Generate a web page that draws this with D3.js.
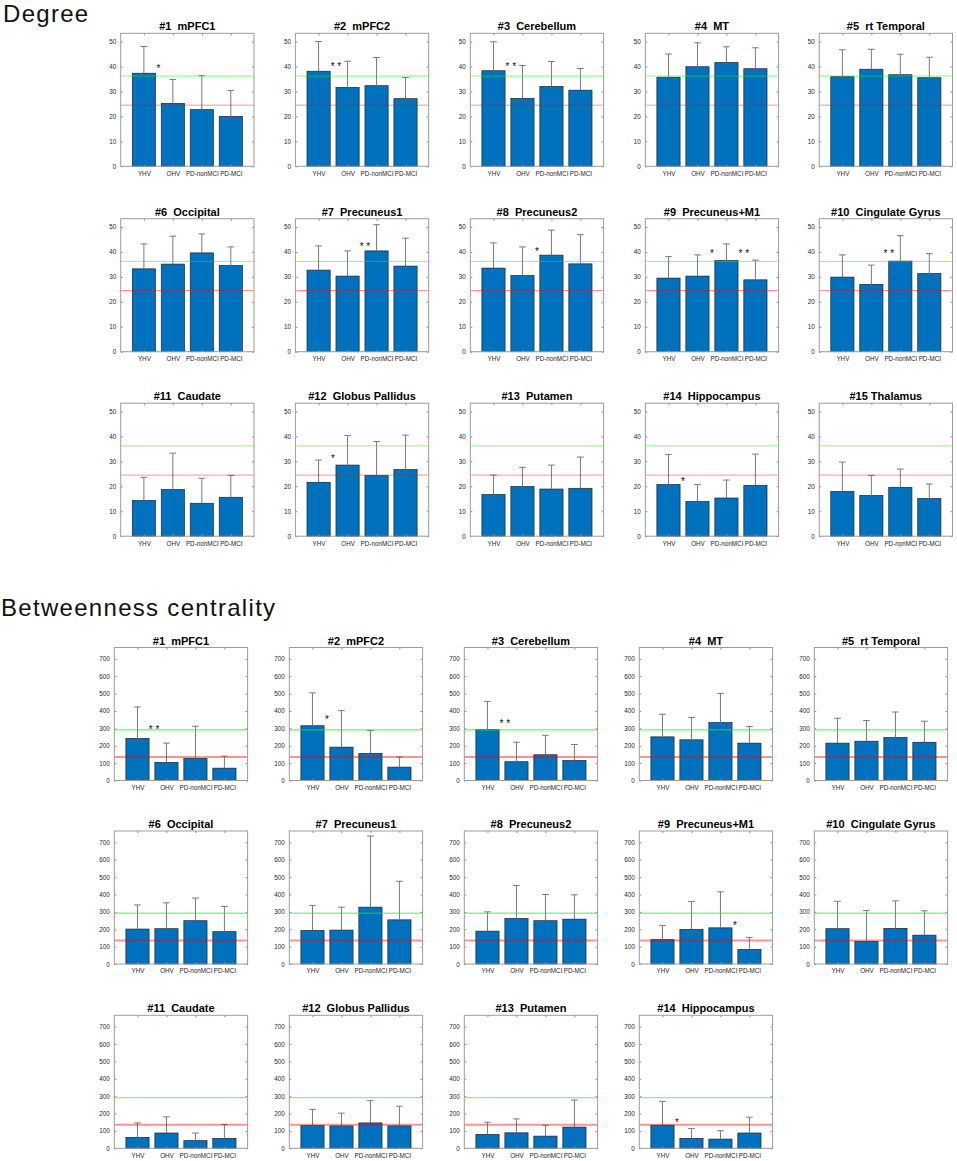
<!DOCTYPE html>
<meta charset="utf-8">
<script src="https://d3js.org/d3.v7.min.js"></script>
<style>
  body { margin: 0; background: #fff; }
  .tick text { fill: #262626; }
</style>
<div id="chart"></div>
<script>

// groups on the x axis of every panel
var groups = ["YHV", "OHV", "PD-nonMCI", "PD-MCI"];

// panel titles
var degreeTitles = ["#1  mPFC1", "#2  mPFC2", "#3  Cerebellum", "#4  MT", "#5  rt Temporal",
  "#6  Occipital", "#7  Precuneus1", "#8  Precuneus2", "#9  Precuneus+M1", "#10  Cingulate Gyrus",
  "#11  Caudate", "#12  Globus Pallidus", "#13  Putamen", "#14  Hippocampus", "#15 Thalamus"];
var betweenTitles = degreeTitles.slice(0, 14);

// degree: mean and SD per group
var degreeMean = [
  [37.3, 25.2, 22.7, 20.0], [38.1, 31.6, 32.3, 27.1], [38.3, 27.2, 32.0, 30.5],
  [35.7, 39.9, 41.6, 39.1], [35.9, 38.9, 36.7, 35.5], [33.2, 35.1, 39.6, 34.5],
  [32.7, 30.3, 40.4, 34.3], [33.5, 30.5, 38.7, 35.2], [29.5, 30.3, 36.5, 28.8],
  [29.9, 27.0, 36.3, 31.3], [14.3, 18.7, 13.2, 15.6], [21.6, 28.5, 24.3, 26.7],
  [16.7, 19.9, 18.9, 19.2], [20.7, 13.9, 15.3, 20.4], [17.9, 16.3, 19.6, 15.1]
];
var degreeSD = [
  [10.7, 9.6, 13.6, 10.4], [11.9, 10.5, 11.3, 8.5], [11.6, 13.2, 10.0, 8.7],
  [9.3, 9.6, 6.3, 8.4], [10.8, 8.0, 8.2, 8.2], [10.0, 11.2, 7.6, 7.5],
  [9.7, 10.1, 10.5, 11.2], [10.1, 11.5, 10.0, 11.7], [8.6, 8.5, 6.7, 7.9],
  [8.9, 7.7, 10.2, 8.0], [9.3, 14.6, 10.0, 8.8], [8.9, 11.9, 13.6, 13.8],
  [7.8, 7.7, 9.6, 12.5], [12.1, 6.8, 7.2, 12.5], [11.8, 8.1, 7.3, 5.8]
];
var degreeRef = [36.2, 24.5];   // green, red reference lines
var degreeTicks = [0, 10, 20, 30, 40, 50];

// betweenness centrality: mean and SD per group
var betweenMean = [
  [242, 104, 127, 71], [315, 192, 156, 77], [293, 108, 148, 115],
  [251, 234, 333, 215], [215, 226, 247, 220], [201, 203, 249, 186],
  [193, 195, 327, 254], [189, 262, 249, 258], [140, 199, 208, 84],
  [203, 130, 205, 166], [63, 88, 44, 57], [131, 129, 146, 129],
  [80, 89, 70, 122], [133, 57, 53, 88]
];
var betweenSD = [
  [181, 111, 185, 69], [189, 210, 132, 58], [162, 112, 112, 92],
  [130, 128, 168, 95], [143, 119, 147, 121], [139, 149, 130, 145],
  [144, 132, 409, 222], [111, 189, 151, 140], [82, 161, 207, 69],
  [158, 178, 158, 140], [83, 93, 44, 80], [93, 73, 128, 113],
  [70, 80, 63, 156], [137, 57, 48, 91]
];
var betweenRef = [292, 135];
var betweenTicks = [0, 100, 200, 300, 400, 500, 600, 700];

// significance marks: [panel, x (group units), y (value), label]
var degreeStars = [
  [0, 1.5, 39.9, "*"], [1, 1.6, 40.9, "* *"], [2, 1.6, 40.9, "* *"],
  [6, 2.6, 43.1, "* *"], [7, 2.5, 41.1, "*"], [8, 2.5, 40.3, "*"],
  [8, 3.6, 40.3, "* *"], [9, 2.6, 40.3, "* *"], [11, 1.5, 31.9, "*"],
  [13, 1.5, 22.9, "*"]
];
var betweenStars = [
  [0, 1.57, 302, "* *"], [1, 1.5, 362, "*"], [2, 1.6, 339, "* *"],
  [8, 3.5, 231, "*"], [13, 1.5, 158, "*"]
];

var width = 957, height = 1161;
var boxW = 133.3, boxH = 133;
var font = "'Liberation Sans', Arial, sans-serif";

var svg = d3.select("#chart").append("svg")
  .attr("width", width)
  .attr("height", height);

// section headings
svg.append("text").attr("x", 3).attr("y", 22).text("Degree")
  .style("font-family", font).style("font-size", "24px")
  .style("letter-spacing", "1.3px").attr("fill", "#111");
svg.append("text").attr("x", 1).attr("y", 616).text("Betweenness centrality")
  .style("font-family", font).style("font-size", "24px")
  .style("letter-spacing", "1.3px").attr("fill", "#111");

function drawPanel(left, top, title, means, sds, yMax, ticks, ref, refWidth, stars) {
  var g = svg.append("g").attr("transform", "translate(" + left + "," + top + ")");

  var x = d3.scaleLinear().domain([0.2, 4.8]).range([0, boxW]);
  var y = d3.scaleLinear().domain([0, yMax]).range([boxH, 0]);
  var rows = groups.map(function(name, i) { return { i: i + 1, m: means[i], sd: sds[i] }; });

  g.append("rect").attr("width", boxW).attr("height", boxH)
    .attr("fill", "#fff");

  // bars
  g.selectAll(".bar").data(rows).enter().append("rect")
    .attr("x", function(d) { return x(d.i - 0.4); })
    .attr("y", function(d) { return y(d.m); })
    .attr("width", x(1.2) - x(0.4))
    .attr("height", function(d) { return boxH - y(d.m); })
    .attr("fill", "#0072bd")
    .attr("stroke", "#1b2433")
    .attr("stroke-width", 0.7);

  // error bars (upper side only)
  g.selectAll(".err").data(rows).enter().append("line")
    .attr("x1", function(d) { return x(d.i); })
    .attr("x2", function(d) { return x(d.i); })
    .attr("y1", function(d) { return y(d.m); })
    .attr("y2", function(d) { return y(d.m + d.sd); })
    .attr("stroke", "#7a7a7a").attr("stroke-width", 1);
  g.selectAll(".cap").data(rows).enter().append("line")
    .attr("x1", function(d) { return x(d.i) - 3.3; })
    .attr("x2", function(d) { return x(d.i) + 3.3; })
    .attr("y1", function(d) { return y(d.m + d.sd); })
    .attr("y2", function(d) { return y(d.m + d.sd); })
    .attr("stroke", "#7a7a7a").attr("stroke-width", 1);

  // reference lines
  g.append("line").attr("x1", 0).attr("x2", boxW)
    .attr("y1", y(ref[0])).attr("y2", y(ref[0]))
    .attr("stroke", "#00ff00").attr("stroke-opacity", 0.5).attr("stroke-width", refWidth[0]);
  g.append("line").attr("x1", 0).attr("x2", boxW)
    .attr("y1", y(ref[1])).attr("y2", y(ref[1]))
    .attr("stroke", "#ff0000").attr("stroke-opacity", 0.42).attr("stroke-width", refWidth[1]);

  // axes, ticks pointing inwards like MATLAB
  var fmtGroup = function(v) { return groups[v - 1]; };
  var axes = [
    g.append("g").attr("transform", "translate(0," + boxH + ")")
      .call(d3.axisBottom(x).tickValues([1, 2, 3, 4]).tickFormat(fmtGroup).tickSizeInner(-2).tickSizeOuter(0).tickPadding(5)),
    g.append("g")
      .call(d3.axisTop(x).tickValues([1, 2, 3, 4]).tickFormat("").tickSizeInner(-2).tickSizeOuter(0)),
    g.append("g")
      .call(d3.axisLeft(y).tickValues(ticks).tickSizeInner(-2).tickSizeOuter(0).tickPadding(4.5)),
    g.append("g").attr("transform", "translate(" + boxW + ",0)")
      .call(d3.axisRight(y).tickValues(ticks).tickFormat("").tickSizeInner(-2).tickSizeOuter(0))
  ];
  axes.forEach(function(a) {
    a.select(".domain").remove();
    a.selectAll(".tick line").attr("stroke", "#8a8a8a");
    a.selectAll("text").style("font-family", font).style("font-size", "6.3px");
  });

  // frame
  g.append("rect").attr("width", boxW).attr("height", boxH)
    .attr("fill", "none").attr("stroke", "#9d9d9d").attr("stroke-width", 1);

  // title
  g.append("text").attr("x", boxW / 2).attr("y", -3)
    .attr("text-anchor", "middle")
    .style("font-family", font).style("font-size", "11px").style("font-weight", "bold")
    .style("white-space", "pre")
    .text(title);

  // significance marks
  stars.forEach(function(s) {
    g.append("text").attr("x", x(s[1])).attr("y", y(s[2]) + 5.5)
      .attr("text-anchor", "middle")
      .style("font-family", font).style("font-size", "10px")
      .style("white-space", "pre")
      .attr("fill", "#111")
      .text(s[3]);
  });
}

var degreeLefts = [120.7, 295.4, 470.3, 645.3, 819.2];
var degreeTops = [33.3, 218.7, 403.2];
degreeTitles.forEach(function(t, k) {
  var r = Math.floor(k / 5), c = k % 5;
  drawPanel(degreeLefts[c], degreeTops[r], t, degreeMean[k], degreeSD[k], 53.3, degreeTicks,
    degreeRef, [1, 1], degreeStars.filter(function(s) { return s[0] === k; }));
});

var betweenLefts = [114.3, 289.3, 464.3, 639.3, 814.3];
var betweenTops = [647.5, 831, 1015.3];
betweenTitles.forEach(function(t, k) {
  var r = Math.floor(k / 5), c = k % 5;
  drawPanel(betweenLefts[c], betweenTops[r], t, betweenMean[k], betweenSD[k], 765, betweenTicks,
    betweenRef, [1.3, 2], betweenStars.filter(function(s) { return s[0] === k; }));
});

</script>
